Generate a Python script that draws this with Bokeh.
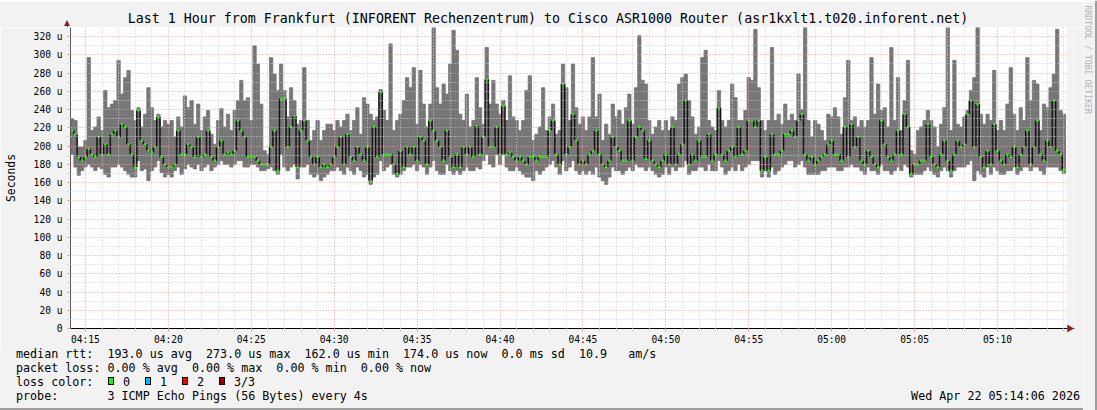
import math
import html
from bokeh.plotting import figure
from bokeh.models import Range1d, FixedTicker, Div
from bokeh.layouts import row, column
from bokeh.core.properties import value
from bokeh.embed import file_html
from bokeh.resources import INLINE

# ---------------- data (microseconds) ----------------
start_min = 14.1      # 04:14:06 expressed as minutes after 04:00
span_min = 60.0       # last 1 hour

ping_max = [
    230,228,199,199,206,297,217,221,232,217,261,242,246,250,294,257,275,283,239,228,
    242,221,235,264,242,228,235,221,228,224,228,210,232,221,255,242,250,224,246,217,
    232,239,213,202,228,241,221,235,217,239,250,272,250,253,228,310,290,246,195,191,
    297,279,261,290,261,232,264,250,224,228,286,228,206,217,228,206,217,224,224,217,
    228,221,228,235,217,228,242,213,253,246,235,228,232,262,239,228,312,217,228,235,
    250,275,264,286,224,283,246,221,246,330,264,246,268,257,290,327,305,235,228,257,
    221,228,275,242,224,308,246,272,246,235,250,228,277,232,228,217,228,261,277,206,
    213,221,264,217,232,246,213,217,290,264,228,290,242,224,232,217,232,297,232,257,
    206,224,213,246,232,239,224,242,257,224,264,321,272,268,228,213,221,228,217,228,
    217,232,228,268,275,279,250,232,213,221,297,305,228,221,217,261,228,221,228,268,
    253,228,228,239,275,272,328,264,228,217,228,308,228,235,224,246,228,235,228,279,
    240,330,228,210,228,224,217,206,235,232,242,232,213,253,294,228,232,221,228,221,
    228,297,235,268,239,242,221,308,228,275,217,250,294,195,191,217,221,228,239,228,
    221,199,224,242,330,217,294,224,221,232,239,261,275,330,235,224,235,228,283,217,
    228,217,246,286,235,217,242,228,297,250,272,268,217,246,242,264,279,328,239,235,
]
median = [
    217,213,188,184,188,197,191,188,210,191,202,191,213,217,210,224,221,202,191,177,
    239,206,202,195,193,199,232,188,180,177,177,180,217,191,191,202,199,188,210,188,
    191,217,188,184,199,206,191,193,191,195,228,217,210,188,188,188,184,180,180,180,
    199,217,173,252,252,199,221,233,177,217,228,206,188,180,188,177,180,177,180,188,
    199,210,180,213,188,184,199,191,184,199,162,221,188,259,191,191,191,180,169,195,
    177,199,191,199,184,210,206,180,228,217,206,199,184,217,188,177,191,177,199,191,
    199,188,222,191,210,273,199,199,221,191,244,191,193,188,184,188,184,180,188,188,
    184,188,188,188,217,228,191,180,268,191,199,235,206,180,184,180,191,195,217,191,
    180,177,184,210,199,195,184,184,228,184,210,221,217,186,206,184,180,177,184,191,
    180,221,180,191,202,250,180,191,184,206,188,188,213,184,191,242,191,184,195,199,
    188,221,191,195,228,228,221,228,173,188,173,213,191,191,195,213,213,217,210,228,
    235,191,184,188,180,184,188,191,202,206,191,191,184,221,188,224,199,210,184,180,
    195,188,180,177,228,202,188,184,191,217,191,235,221,169,180,180,184,184,224,188,
    180,177,191,206,184,173,191,206,199,202,235,250,199,246,188,177,195,180,224,195,
    184,180,191,188,199,177,191,199,217,180,199,228,191,184,206,199,250,195,191,174,
]
ping_min = [
    191,177,168,173,177,180,177,173,177,175,169,166,177,177,180,177,173,169,166,166,
    184,173,175,162,173,177,184,171,166,169,166,173,177,169,175,180,177,175,180,173,
    177,180,173,177,180,184,180,180,177,180,184,184,177,177,180,180,177,173,173,175,
    177,173,169,191,177,173,177,180,164,177,177,180,169,166,169,162,166,169,173,173,
    177,173,169,177,173,169,177,173,166,169,158,166,169,184,173,177,180,169,166,169,
    173,177,177,180,173,180,177,169,177,184,173,169,169,180,173,169,173,169,173,177,
    173,173,177,175,184,191,180,177,191,180,191,177,173,173,177,173,169,166,166,162,
    173,169,173,177,180,184,177,169,184,173,177,184,173,169,173,169,173,169,177,166,
    162,158,166,177,173,173,169,173,177,173,180,177,177,173,177,173,169,166,169,177,
    169,177,173,177,177,184,169,173,173,177,177,173,180,173,173,184,177,169,173,177,
    173,180,173,177,180,184,184,184,166,173,166,177,169,173,177,180,184,184,177,180,
    184,177,169,169,169,169,173,173,177,177,177,173,173,177,177,180,177,177,173,169,
    177,173,173,169,180,173,173,169,173,177,173,180,177,166,169,169,169,173,177,173,
    169,166,173,177,173,166,173,177,177,177,180,184,162,173,169,166,177,169,177,173,
    169,169,173,173,177,169,173,177,177,173,177,177,173,169,177,177,177,177,173,170,
]

x_ticks = [15, 20, 25, 30, 35, 40, 45, 50, 55, 60, 65, 70]
x_tick_labels = ["04:15", "04:20", "04:25", "04:30", "04:35", "04:40",
                 "04:45", "04:50", "04:55", "05:00", "05:05", "05:10"]
y_ticks = [0, 20, 40, 60, 80, 100, 120, 140, 160, 180, 200, 220, 240, 260, 280, 300, 320]
y_tick_labels = ["0", "20 u", "40 u", "60 u", "80 u", "100 u", "120 u", "140 u", "160 u",
                 "180 u", "200 u", "220 u", "240 u", "260 u", "280 u", "300 u", "320 u"]
y_top = 330

title_text = ("Last 1 Hour from Frankfurt (INFORENT Rechenzentrum) to Cisco ASR1000 Router "
              "(asr1kxlt1.t020.inforent.net)")
stat_lines = [
    "median rtt:  193.0 us avg  273.0 us max  162.0 us min  174.0 us now  0.0 ms sd  10.9   am/s",
    "packet loss: 0.00 % avg  0.00 % max  0.00 % min  0.00 % now",
]
loss_title = "loss color:"
loss_labels = ["0", "1", "2", "3/3"]
loss_colors = ["#22f500", "#00b8ff", "#ff0000", "#9a0000"]
probe_text = "probe:       3 ICMP Echo Pings (56 Bytes) every 4s"
date_text = "Wed Apr 22 05:14:06 2026"
credit_text = "RRDTOOL / TOBI OETIKER"

# ---------------- styling constants ----------------
MONO = "DejaVu Sans Mono"
BG = "#f2f2f2"
SMOKE = "#767676"
MGRID = "#ee9a9a"
GRID = "#d0d0d0"
ARROW = "#8e1c1c"
W_LEFT = 1083          # width of the left column (main chart)
W_SIDE = 14            # strip on the right holding the credit text
PLOT_L, PLOT_R, PLOT_T, PLOT_B = 67, 1065, 27, 328   # plot area in page pixels
BOT_T = 350
LEG_FS = 11.7
XPX = (PLOT_R - PLOT_L) / span_min
YPX = (PLOT_B - PLOT_T) / y_top


def span(text, left, top, size=LEG_FS, lh=14, color="#000", extra=""):
    return ('<div style="position:absolute;left:%spx;top:%spx;font-size:%spx;line-height:%spx;'
            'white-space:pre;color:%s;%s">%s</div>'
            % (left, top, size, lh, color, extra, html.escape(text)))


# ---------------- top strip: title + y-axis arrow ----------------
top_html = ('<div style="position:relative;width:%dpx;height:%dpx;background:%s;margin:0;padding:0;'
            'font-family:\'%s\';overflow:visible">' % (W_LEFT, PLOT_T, BG, MONO))
top_html += '<div style="position:absolute;left:0;top:0;width:%dpx;height:1.5px;background:#fff"></div>' % W_LEFT
top_html += span(title_text, 548, 11, size=13.3, lh=16, extra="transform:translateX(-50%);")
top_html += ('<div style="position:absolute;left:64px;top:20px;width:0;height:0;'
             'border-left:3px solid transparent;border-right:3px solid transparent;'
             'border-bottom:6px solid %s"></div>' % ARROW)
top_html += '<div style="position:absolute;left:66.5px;top:26px;width:1px;height:1px;background:#5a5a5a"></div>'
top_html += '</div>'
top = Div(text=top_html, width=W_LEFT, height=PLOT_T, margin=0,
          styles={"background-color": BG, "padding": "0", "margin": "0"})

# ---------------- main chart ----------------
n = min(len(ping_max), len(median), len(ping_min))
step = span_min / n
left = [start_min + i * step for i in range(n)]
right = [l + step for l in left]
center = [l + step / 2 for l in left]

x_end = start_min + (1074 - PLOT_L) / XPX
p = figure(width=W_LEFT, height=BOT_T - PLOT_T, title=None,
           x_range=Range1d(start_min, x_end), y_range=Range1d(0, y_top),
           output_backend="svg", toolbar_location=None,
           min_border_left=PLOT_L, min_border_right=W_LEFT - 1074,
           min_border_top=0, min_border_bottom=BOT_T - PLOT_B,
           background_fill_color="white", border_fill_color=BG,
           outline_line_color=None)

# smoke (min..max of the pings)
p.quad(left=left, right=right, bottom=ping_min[:n], top=ping_max[:n],
       fill_color=SMOKE, line_color=SMOKE, line_width=0.8)
# median: vertical transitions in black, level marks in loss colour
p.segment(x0=left[1:], y0=median[:n - 1], x1=left[1:], y1=median[1:n],
          line_color="#141414", line_width=1.5)
p.rect(x=center, y=median[:n], width=2.4, height=2.2,
       width_units="screen", height_units="screen",
       fill_color=loss_colors[0], line_color=None)

# axes / ticks / grid
xt = FixedTicker(ticks=x_ticks, minor_ticks=[m for m in range(15, 75) if m % 5 != 0])
yt = FixedTicker(ticks=y_ticks, minor_ticks=list(range(10, y_top, 20)))
p.xaxis.ticker = xt
p.xgrid.ticker = xt
p.yaxis.ticker = yt
p.ygrid.ticker = yt
p.xaxis.major_label_overrides = {t: s for t, s in zip(x_ticks, x_tick_labels)}
p.yaxis.major_label_overrides = {t: s for t, s in zip(y_ticks, y_tick_labels)}
for ax in (p.xaxis[0], p.yaxis[0]):
    ax.major_label_text_font = MONO
    ax.major_label_text_font_size = "9.6px"
    ax.major_label_text_color = "#000000"
    ax.major_tick_in = 0
    ax.major_tick_out = 3
    ax.minor_tick_in = 0
    ax.minor_tick_out = 3
    ax.major_tick_line_color = MGRID
    ax.minor_tick_line_color = GRID
p.xaxis.axis_line_color = "#000000"
p.yaxis.axis_line_color = "#5a5a5a"
p.xaxis.major_label_standoff = 2
p.yaxis.major_label_standoff = 5
p.yaxis.axis_label = "Seconds"
p.yaxis.axis_label_text_font = MONO
p.yaxis.axis_label_text_font_size = "11.4px"
p.yaxis.axis_label_text_font_style = "normal"
p.yaxis.axis_label_text_color = "#000000"
p.yaxis.axis_label_standoff = 13
for g in (p.xgrid[0], p.ygrid[0]):
    g.grid_line_color = MGRID
    g.grid_line_dash = "1 2"
    g.minor_grid_line_color = GRID
    g.minor_grid_line_dash = "1 2"
    g.level = "guide"

# outside the plot area on the right: canvas colour, then the x-axis arrow head
mask_l = start_min + (1066.5 - PLOT_L) / XPX
p.quad(left=[mask_l], right=[x_end], bottom=[0], top=[y_top], fill_color=BG, line_color=None,
       level="annotation")
ax_x0 = start_min + (1067 - PLOT_L) / XPX
ax_x1 = start_min + (1073 - PLOT_L) / XPX
p.patch(x=[ax_x0, ax_x0, ax_x1], y=[3.5 / YPX, -3.5 / YPX, 0], fill_color=ARROW,
        line_color=ARROW, line_width=0.5, level="overlay")

# ---------------- bottom strip: statistics and legend ----------------
row_y = [354, 368, 382, 396]
bot_html = ('<div style="position:relative;width:%dpx;height:%dpx;background:%s;margin:0;padding:0;'
            'font-family:\'%s\';overflow:visible">' % (W_LEFT, 410 - BOT_T, BG, MONO))
for txt, yc in zip([stat_lines[0], stat_lines[1], loss_title, probe_text], row_y):
    bot_html += span(txt, 16, yc - BOT_T - 7)
box_x = [108, 145, 182, 219]
for bx, lab, col in zip(box_x, loss_labels, loss_colors):
    bot_html += ('<div style="position:absolute;left:%dpx;top:%dpx;width:6px;height:8px;'
                 'border:1px solid #000;background:%s"></div>' % (bx, 377 - BOT_T, col))
    bot_html += span(lab, bx + 15, row_y[2] - BOT_T - 7)
bot_html += span(date_text, 0, row_y[3] - BOT_T - 7,
                 extra="left:auto;right:%dpx;" % (W_LEFT - 1080))
bot_html += ('<div style="position:absolute;left:0;top:%spx;width:%dpx;height:2.5px;'
             'background:#9e9e9e"></div>' % (407.5 - BOT_T, W_LEFT))
bot_html += '</div>'
bot = Div(text=bot_html, width=W_LEFT, height=410 - BOT_T, margin=0,
          styles={"background-color": BG, "padding": "0", "margin": "0"})

# ---------------- right strip: credit ----------------
side = figure(width=W_SIDE, height=410, title=None,
              x_range=Range1d(W_LEFT, W_LEFT + W_SIDE), y_range=Range1d(410, 0),
              x_axis_location=None, y_axis_location=None,
              output_backend="svg", toolbar_location=None,
              min_border=0, min_border_left=0, min_border_right=0,
              min_border_top=0, min_border_bottom=0,
              background_fill_color=BG, border_fill_color=BG, outline_line_color=None)
side.xgrid.visible = False
side.ygrid.visible = False
side.text(x=[1087.5], y=[5], text=[credit_text], angle=-math.pi / 2,
          text_font=value(MONO), text_font_size="8.2px", text_align="left",
          text_baseline="middle", text_color="#b4b4b4")
side.quad(left=[1094.5], right=[1097], top=[0], bottom=[410], fill_color="#9e9e9e",
          line_color=None)
side.quad(left=[W_LEFT], right=[1094.5], top=[0], bottom=[1.5], fill_color="#ffffff",
          line_color=None)

layout = row(column(top, p, bot), side)
open("out.html", "w").write(file_html(layout, INLINE))
